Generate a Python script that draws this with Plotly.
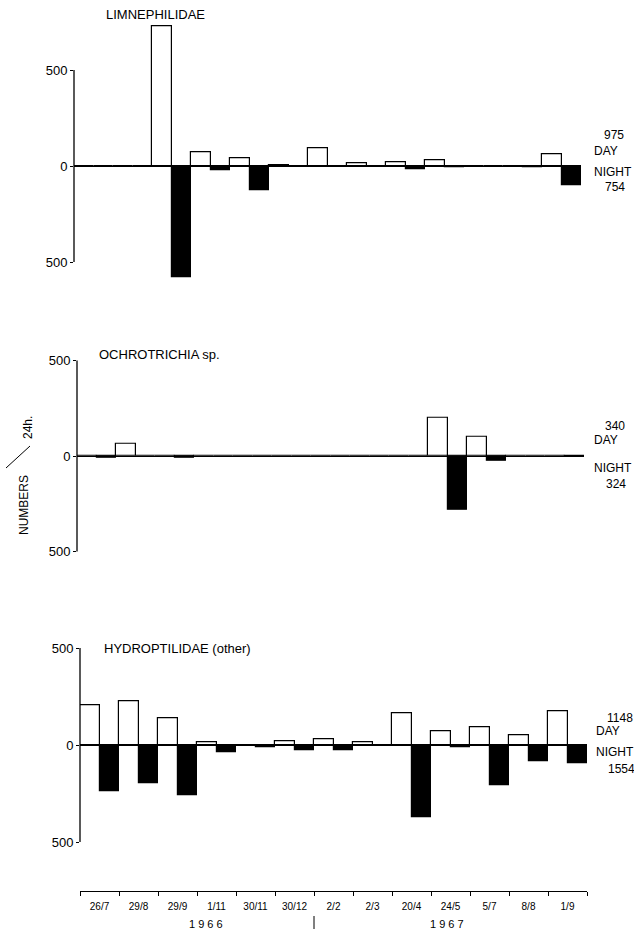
import plotly.graph_objects as go

# ---------------- data ----------------
dates = ["26/7", "29/8", "29/9", "1/11", "30/11", "30/12", "2/2", "2/3",
         "20/4", "24/5", "5/7", "8/8", "1/9"]

limn_day = [0, 0, 730, 70, 40, 3, 90, 15, 18, 30, 0, 0, 60]
limn_night = [0, 0, 578, 20, 125, 3, 3, 3, 17, 8, 0, 4, 100]

ochro_day = [0, 65, 0, 0, 0, 0, 0, 0, 0, 200, 100, 0, 0]
ochro_night = [8, 0, 10, 0, 0, 0, 0, 0, 0, 280, 24, 0, 5]

hydro_day = [207, 226, 136, 12, 0, 17, 31, 15, 164, 72, 92, 48, 172]
hydro_night = [238, 195, 260, 35, 12, 26, 28, 0, 371, 14, 205, 86, 92]

panel_titles = ["LIMNEPHILIDAE", "OCHROTRICHIA sp.", "HYDROPTILIDAE (other)"]
day_totals = ["975", "340", "1148"]
night_totals = ["754", "324", "1554"]
year_labels = ["1 9 6 6", "1 9 6 7"]
y_tick_vals = [-500, 0, 500]
y_tick_text = ["500", "0", "500"]

# ---------------- layout geometry (screen pixels) ----------------
W, H = 634, 930
FONT = "Liberation Sans"


def px(x):
    return x / W


def py(y):
    return 1 - y / H


# per panel: x-axis left px, zero-line px, px per unit, y range
panels = [
    dict(x0=74, zero=166, s=96 / 500, rng=[-640, 780]),
    dict(x0=77, zero=456, s=95.5 / 500, rng=[-540, 540]),
    dict(x0=80, zero=745, s=97 / 500, rng=[-540, 540]),
]
pair_px = 39

data_sets = [(limn_day, limn_night), (ochro_day, ochro_night), (hydro_day, hydro_night)]

fig = go.Figure()
layout = dict(
    width=W, height=H,
    margin=dict(l=0, r=0, t=0, b=0),
    paper_bgcolor="white", plot_bgcolor="rgba(0,0,0,0)",
    showlegend=False,
    barmode="group", bargap=0, bargroupgap=0,
    font=dict(family=FONT, color="black"),
)

shapes = []
annotations = []

for i, (p, (dv, nv)) in enumerate(zip(panels, data_sets)):
    sfx = "" if i == 0 else str(i + 1)
    xa, ya = "x" + sfx, "y" + sfx
    fig.add_trace(go.Bar(x=dates, y=dv, xaxis=xa, yaxis=ya, offsetgroup="day",
                         marker=dict(color="white", line=dict(color="black", width=1.2))))
    fig.add_trace(go.Bar(x=dates, y=[-v for v in nv], xaxis=xa, yaxis=ya, offsetgroup="night",
                         marker=dict(color="black", line=dict(color="black", width=1.2))))
    lo, hi = p["rng"]
    top_px = p["zero"] - hi * p["s"]
    bot_px = p["zero"] - lo * p["s"]
    xdom = [px(p["x0"]), px(p["x0"] + pair_px * len(dates))]
    ydom = [py(bot_px), py(top_px)]
    xkey = "xaxis" + sfx
    ykey = "yaxis" + sfx
    xax = dict(domain=xdom, anchor=ya, range=[-0.5, len(dates) - 0.5],
               categoryorder="array", categoryarray=dates,
               showgrid=False, zeroline=False, visible=False)
    if i == 2:
        xax.update(visible=True, anchor="free", position=py(891),
                   showline=True, linecolor="black", linewidth=1.3,
                   ticks="outside", tickson="boundaries", ticklen=4,
                   tickcolor="black", tickwidth=1.3, ticklabelstandoff=6,
                   tickfont=dict(size=10, family=FONT, color="black"))
    layout[xkey] = xax
    layout[ykey] = dict(domain=ydom, anchor=xa, range=p["rng"],
                        showgrid=False, showline=False,
                        zeroline=True, zerolinecolor="black", zerolinewidth=1.3,
                        tickvals=y_tick_vals, ticktext=y_tick_text,
                        ticks="outside", ticklen=3, tickcolor="black", tickwidth=1.2,
                        tickfont=dict(size=13, family=FONT, color="black"))
    # vertical axis line from -500 to 500
    shapes.append(dict(type="line", xref=xa + " domain", yref=ya,
                       x0=0, x1=0, y0=-500, y1=500,
                       line=dict(color="black", width=1.3)))

# panel titles
title_pos = [(155, 15), (159, 354), (177, 648)]
for t, (cx, cy) in zip(panel_titles, title_pos):
    annotations.append(dict(text=t, x=px(cx), y=py(cy), xref="paper", yref="paper",
                            showarrow=False, xanchor="center", yanchor="middle",
                            font=dict(size=13, family=FONT, color="black")))

# right side totals
right = [
    dict(d=135, day=151, night=172, n=187, dx=602, lx=592),
    dict(d=426, day=440, night=468, n=484, dx=603, lx=592),
    dict(d=718, day=731, night=752, n=769, dx=605, lx=594),
]
for r, dt, nt in zip(right, day_totals, night_totals):
    for txt, yy, xx in [(dt, r["d"], r["dx"]), ("DAY", r["day"], r["lx"]),
                        ("NIGHT", r["night"], r["lx"]), (nt, r["n"], r["dx"] + 1)]:
        annotations.append(dict(text=txt, x=px(xx), y=py(yy), xref="paper", yref="paper",
                                showarrow=False, xanchor="left", yanchor="middle",
                                font=dict(size=12, family=FONT, color="black")))

# y title  NUMBERS / 24h.
annotations.append(dict(text="NUMBERS", x=px(24), y=py(505), xref="paper", yref="paper",
                        showarrow=False, textangle=-90, xanchor="center", yanchor="middle",
                        font=dict(size=12, family=FONT, color="black")))
annotations.append(dict(text="24h.", x=px(28), y=py(428), xref="paper", yref="paper",
                        showarrow=False, textangle=-90, xanchor="center", yanchor="middle",
                        font=dict(size=12, family=FONT, color="black")))
shapes.append(dict(type="line", xref="paper", yref="paper",
                   x0=px(6), y0=py(468), x1=px(30), y1=py(446),
                   line=dict(color="black", width=1)))

# year labels
for t, cx in zip(year_labels, [206, 447]):
    annotations.append(dict(text=t, x=px(cx), y=py(924), xref="paper", yref="paper",
                            showarrow=False, xanchor="center", yanchor="middle",
                            font=dict(size=11, family=FONT, color="black")))
# year separator at boundary between 30/12 and 2/2
shapes.append(dict(type="line", xref="x3", yref="paper", x0=5.5, x1=5.5,
                   y0=py(929), y1=py(916), line=dict(color="black", width=1)))

layout["shapes"] = shapes
layout["annotations"] = annotations
fig.update_layout(**layout)
fig.write_html(
    "out.html",
    config={"displayModeBar": False},
    post_script="document.body.style.margin='0';"
                "document.body.style.overflow='hidden';"
                "document.documentElement.style.overflow='hidden';",
)
